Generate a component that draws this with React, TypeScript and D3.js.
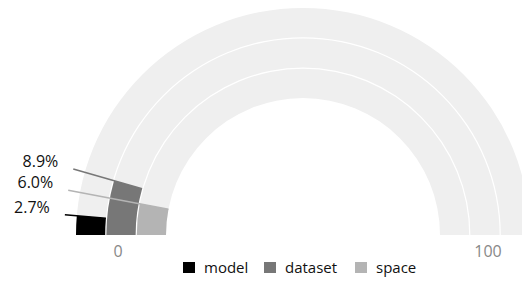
import * as d3 from 'd3';

const categories = ['model', 'dataset', 'space'];
const values = [2.7, 8.9, 6.0];
const colors = ['#000000', '#777777', '#b4b4b4'];
const angleTicks = [0, 100];

export default function App() {
  const width = 522;
  const height = 282;
  const cx = 303;
  const cy = 235;

  const angle = d3.scaleLinear().domain([0, 100]).range([-Math.PI / 2, Math.PI / 2]);
  // inner ring first, outer ring last
  const radius = d3
    .scaleBand<string>()
    .domain([...categories].reverse())
    .range([137, 227])
    .paddingInner(0.04);

  const arc = d3.arc();
  const font = '"Open Sans", "DejaVu Sans", sans-serif';

  const pt = (a: number, r: number) => [cx + r * Math.sin(a), cy - r * Math.cos(a)];

  const legendX = [183, 264, 355];

  return (
    <svg
      width={width}
      height={height}
      style={{ position: 'absolute', left: 0, top: 0, background: '#fff' }}
      fontFamily={font}
    >
      {/* background tracks */}
      {categories.map((c) => (
        <path
          key={'bg-' + c}
          transform={`translate(${cx},${cy})`}
          fill="#efefef"
          d={
            arc({
              innerRadius: radius(c)!,
              outerRadius: radius(c)! + radius.bandwidth(),
              startAngle: angle(0),
              endAngle: angle(100),
            }) || ''
          }
        />
      ))}
      {/* bars */}
      {categories.map((c, i) => (
        <path
          key={'bar-' + c}
          transform={`translate(${cx},${cy})`}
          fill={colors[i]}
          d={
            arc({
              innerRadius: radius(c)!,
              outerRadius: radius(c)! + radius.bandwidth(),
              startAngle: angle(0),
              endAngle: angle(values[i]),
            }) || ''
          }
        />
      ))}
      {/* leader lines and labels */}
      {categories.map((c, i) => {
        const a = angle(values[i]);
        const [x1, y1] = pt(a, radius(c)!);
        const [x2, y2] = pt(a, 239);
        return (
          <g key={'lab-' + c}>
            <line x1={x1} y1={y1} x2={x2} y2={y2} stroke={colors[i]} strokeWidth={1.6} />
            <text
              x={x2 - 15}
              y={y2 - 6}
              textAnchor="end"
              dominantBaseline="middle"
              fontSize={16}
              fill="#111"
            >
              {values[i].toFixed(1)}%
            </text>
          </g>
        );
      })}
      {/* angle axis labels */}
      {angleTicks.map((t) => {
        const [x] = pt(angle(t), 185);
        return (
          <text key={'tick-' + t} x={x} y={257} textAnchor="middle" fontSize={16} fill="#888">
            {t}
          </text>
        );
      })}
      {/* legend */}
      {categories.map((c, i) => (
        <g key={'leg-' + c} transform={`translate(${legendX[i]},262)`}>
          <rect x={0} y={0} width={12} height={11} fill={colors[i]} />
          <text x={21} y={11} fontSize={15} fill="#111">
            {c}
          </text>
        </g>
      ))}
    </svg>
  );
}
